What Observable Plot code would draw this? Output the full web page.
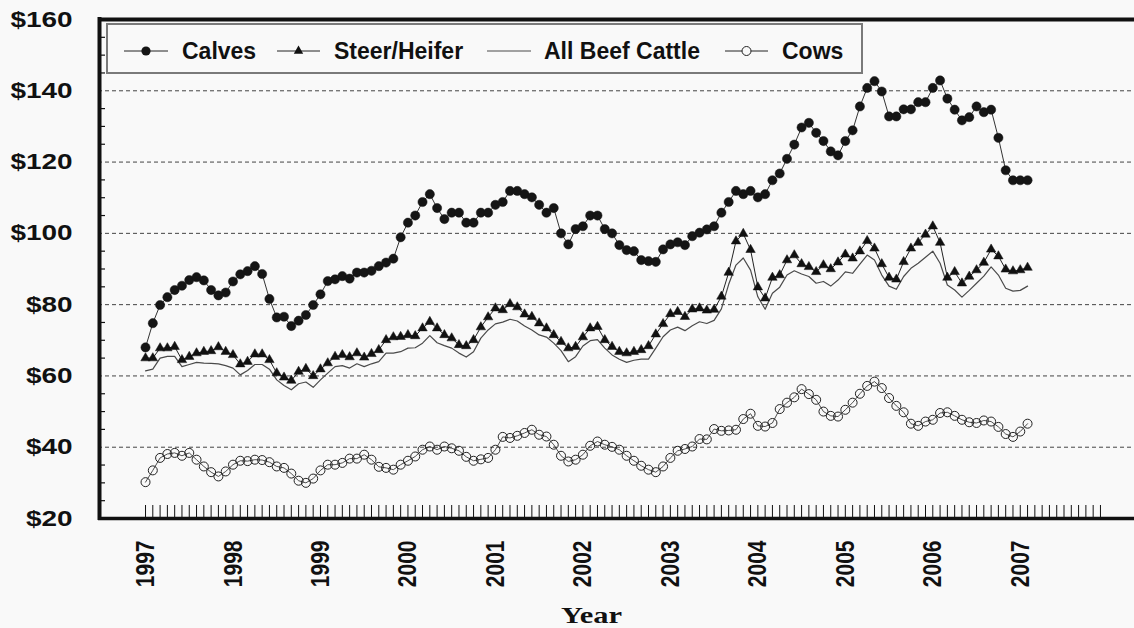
<!DOCTYPE html>
<html><head><meta charset="utf-8">
<script src="https://cdn.jsdelivr.net/npm/d3@7"></script>
<script src="https://cdn.jsdelivr.net/npm/@observablehq/plot@0.6"></script>
<style>
html,body{margin:0;padding:0;background:#f9f9f9;}
#wrap{position:relative;width:1134px;height:628px;overflow:hidden;}
#wrap svg{position:absolute;left:0;top:0;}
</style></head><body><div id="wrap"></div>
<script>
// ---- data (monthly, Jan 1997 - Feb 2007) ----
const years = [1997,1998,1999,2000,2001,2002,2003,2004,2005,2006,2007];
const seriesNames = ["Calves","Steer/Heifer","All Beef Cattle","Cows"];
const yTickValues = [20,40,60,80,100,120,140,160];
const calves = [68.0,74.8,79.9,82.1,84.1,85.3,86.9,87.7,86.8,84.1,82.6,83.4,
86.5,88.5,89.4,90.8,88.6,81.6,76.4,76.6,74.0,75.5,77.1,79.9,
82.9,86.6,87.1,88.0,87.3,89.0,89.0,89.5,90.8,91.8,92.9,98.9,
103.0,105.0,108.8,111.0,107.1,104.0,105.8,105.8,103.0,103.0,105.8,105.8,
108.0,108.8,111.9,111.9,111.0,110.1,108.0,105.8,107.1,100.0,96.9,101.2,
102.0,105.0,105.0,101.2,100.0,96.7,95.3,95.0,92.5,92.2,92.0,95.5,
96.9,97.5,96.7,99.2,100.2,101.1,102.0,105.8,108.8,111.9,111.0,111.9,
110.1,111.0,114.9,116.8,120.9,124.9,129.7,131.0,128.2,125.9,123.0,121.9,
125.9,128.9,135.6,140.8,142.7,139.8,132.8,132.8,134.8,134.8,136.8,136.8,
140.8,142.9,137.8,134.7,131.7,132.6,135.6,134.0,134.7,126.8,117.7,114.9,
114.9,114.9];
const steer = [65.0,65.0,67.8,67.8,68.2,64.5,65.4,66.4,66.8,67.0,68.1,66.8,
65.9,63.3,64.0,66.1,66.1,64.5,60.8,59.6,58.7,61.2,62.0,60.0,
61.9,63.6,65.4,65.9,65.3,66.4,65.2,66.2,67.3,70.1,70.9,71.0,
71.5,71.2,73.4,75.2,73.4,71.5,70.6,68.7,68.4,70.1,73.7,76.5,
79.0,78.5,80.2,79.3,77.3,76.6,74.8,73.4,71.5,69.6,67.8,68.2,
70.9,73.4,73.8,70.1,68.2,66.8,66.4,66.8,67.3,68.4,71.7,74.6,
77.4,78.0,76.6,78.7,79.0,78.4,78.6,82.3,89.0,97.8,99.9,95.4,
84.9,81.8,87.6,88.3,92.5,93.9,91.4,90.6,89.2,91.1,90.0,91.9,
94.1,93.0,95.0,97.9,95.8,91.4,87.6,87.1,92.0,95.8,97.4,99.7,
102.0,97.4,87.6,89.2,86.0,87.9,89.7,91.8,95.5,93.6,89.9,89.4,
89.7,90.4];
const allBeef = [61.4,61.9,65.0,65.5,65.5,62.6,63.2,63.8,63.6,63.5,63.4,62.9,
62.2,60.3,61.5,63.2,63.2,61.9,58.9,57.3,56.1,57.8,58.3,56.8,
58.9,60.8,62.6,62.9,62.2,63.4,62.6,63.4,64.0,66.4,66.4,66.8,
67.8,67.9,69.2,71.3,69.3,68.5,67.8,66.4,65.3,66.8,70.6,72.9,
74.6,75.1,75.9,75.4,74.0,72.9,71.5,70.9,69.2,67.1,64.0,65.4,
68.4,69.9,70.2,67.8,65.9,64.7,63.8,64.4,64.7,64.7,67.8,71.0,
72.9,73.7,72.7,74.1,75.2,74.7,75.6,78.8,85.7,91.1,93.1,89.7,
82.2,78.7,83.2,84.9,88.3,89.5,88.6,87.9,86.0,86.5,85.2,86.9,
89.2,88.8,91.4,93.9,92.5,88.3,85.2,84.3,87.9,90.2,91.6,93.3,
95.0,91.6,85.5,84.1,82.1,84.0,86.0,88.0,90.6,88.3,84.6,83.8,
84.0,85.2];
const cows = [30.2,33.5,37.0,38.1,38.4,37.6,38.4,36.5,34.6,33.0,31.8,33.2,
35.1,36.2,36.1,36.5,36.4,35.8,34.6,34.2,32.6,30.6,30.0,31.2,
33.5,35.1,35.1,35.6,36.8,36.8,37.9,36.5,34.5,34.2,33.7,35.1,
36.2,37.4,39.3,40.2,39.3,40.2,39.7,39.0,37.3,36.2,36.6,37.0,
39.3,42.9,42.6,43.2,44.0,44.9,43.5,43.0,40.7,37.6,36.0,36.5,
37.9,40.4,41.6,40.7,40.1,39.3,37.6,36.2,34.8,33.7,33.0,34.6,
37.0,39.0,39.5,40.2,42.3,42.2,45.1,44.6,44.7,44.9,47.9,49.4,
46.0,45.8,46.8,50.7,52.5,54.0,56.3,54.9,53.3,50.0,48.8,48.6,
50.5,52.5,55.0,57.2,58.4,56.6,53.8,51.6,49.8,46.6,46.0,47.2,
47.7,49.6,49.8,48.8,47.7,47.0,46.8,47.5,47.2,45.7,43.7,42.9,
44.4,46.6];

// ---- derived tables ----
const toRows = vals => vals.map((v, i) => ({i, v}));
const calvesRows = toRows(calves), steerRows = toRows(steer), beefRows = toRows(allBeef), cowsRows = toRows(cows);
const monthTicks = d3.range(0, years.length * 12);
const yearTicks = years.map((y, k) => k * 12);
const gridVals = yTickValues.slice(1, -1);
const minorVals = d3.range(25, 160, 5).filter(v => v % 20 !== 0);
const xDomain = [-6.45, 135.67];
const STRETCH = 1.27;

const chart = Plot.plot({
  width: 1134, height: 628,
  marginLeft: 98, marginRight: 0, marginTop: 19, marginBottom: 110,
  style: {background: "transparent", fontFamily: "'Liberation Sans', Arial, sans-serif", color: "#111"},
  x: {type: "linear", domain: xDomain, label: null},
  y: {type: "linear", domain: [20, 160], label: null},
  marks: [
    Plot.ruleY(gridVals, {stroke: "#444", strokeWidth: 1, strokeDasharray: "4,3"}),
    Plot.axisY(minorVals, {tickSize: -7, tickFormat: () => "", stroke: "#111", strokeWidth: 1.2}),
    Plot.axisY(yTickValues, {tickSize: 0, tickPadding: 26, tickFormat: d => "$" + d, fontSize: 22, fontWeight: "bold", fill: "#111"}),
    Plot.axisX(monthTicks, {tickSize: -13, tickFormat: () => "", stroke: "#111", strokeWidth: 1}),
    Plot.axisX(yearTicks, {tickSize: 0, tickPadding: 22, tickRotate: -90, tickFormat: d => String(years[d / 12]), fontSize: 21, fontWeight: "bold", fill: "#111"}),
    Plot.line(beefRows, {x: "i", y: "v", stroke: "#4a4a4a", strokeWidth: 1.2}),
    Plot.line(cowsRows, {x: "i", y: "v", stroke: "#222", strokeWidth: 0.8}),
    Plot.dot(cowsRows, {x: "i", y: "v", r: 4.5, fill: "none", stroke: "#222", strokeWidth: 1}),
    Plot.line(steerRows, {x: "i", y: "v", stroke: "#222", strokeWidth: 1}),
    Plot.dot(steerRows, {x: "i", y: "v", symbol: "triangle", r: 3.5, fill: "#111", stroke: "#111", strokeWidth: 0.5}),
    Plot.line(calvesRows, {x: "i", y: "v", stroke: "#333", strokeWidth: 1}),
    Plot.dot(calvesRows, {x: "i", y: "v", r: 4.6, fill: "#151515", stroke: "#151515", strokeWidth: 0.5}),
    Plot.ruleX([xDomain[0]], {stroke: "#111", strokeWidth: 4, dx: 1, strokeLinecap: "square"}),
    Plot.ruleY([160], {stroke: "#111", strokeWidth: 4}),
    Plot.ruleY([20], {stroke: "#111", strokeWidth: 3.5}),
    Plot.text(["Year"], {frameAnchor: "bottom", text: d => d, dx: -25, dy: 97, lineAnchor: "middle",
      fontFamily: "'Liberation Serif', 'Times New Roman', serif", fontSize: 24, fontWeight: "bold", fill: "#111"})
  ]
});

// horizontally widen text like the reference
const sel = d3.select(chart);
sel.selectAll('g[aria-label="y-axis tick label"] text').attr("transform", function() {
  return (this.getAttribute("transform") || "") + ` scale(${STRETCH},1)`;
});
sel.selectAll('g[aria-label="x-axis tick label"] text').attr("transform", function() {
  return (this.getAttribute("transform") || "") + ` scale(1,${STRETCH})`;
});
sel.selectAll('g[aria-label="text"] text').attr("transform", function() {
  return (this.getAttribute("transform") || "") + ` scale(${STRETCH},1)`;
});

const wrap = document.getElementById("wrap");
wrap.appendChild(chart);

// ---- legend (overlay inside the plot frame) ----
const leg = d3.select(wrap).append("svg").attr("width", 1134).attr("height", 80)
  .style("pointer-events", "none");
leg.append("rect").attr("x", 107).attr("y", 24).attr("width", 755).attr("height", 49)
  .attr("fill", "#f9f9f9").attr("stroke", "#7a7a7a").attr("stroke-width", 2);
const legendPos = [
  {line: [124, 168], text: 182, marker: "circle"},
  {line: [277, 320], text: 334, marker: "triangle"},
  {line: [487, 531], text: 544, marker: null},
  {line: [725, 768], text: 782, marker: "open"}
];
const ly = 51;
legendPos.forEach((p, k) => {
  const g = leg.append("g");
  g.append("line").attr("x1", p.line[0]).attr("x2", p.line[1]).attr("y1", ly).attr("y2", ly)
    .attr("stroke", k === 2 ? "#4a4a4a" : "#222").attr("stroke-width", k === 2 ? 1.2 : 1);
  const cx = (p.line[0] + p.line[1]) / 2;
  if (p.marker === "circle") g.append("circle").attr("cx", cx).attr("cy", ly).attr("r", 4.6).attr("fill", "#151515");
  if (p.marker === "open") g.append("circle").attr("cx", cx).attr("cy", ly).attr("r", 4.5).attr("fill", "#f9f9f9").attr("stroke", "#222");
  if (p.marker === "triangle") g.append("path").attr("transform", `translate(${cx},${ly})`)
    .attr("d", d3.symbol(d3.symbolTriangle, 3.5 * 3.5 * Math.PI)()).attr("fill", "#111");
  g.append("text").attr("x", p.text).attr("y", 59).text(seriesNames[k])
    .attr("font-family", "'Liberation Sans', Arial, sans-serif").attr("font-size", 23)
    .attr("font-weight", "bold").attr("fill", "#111");
});
</script></body></html>
